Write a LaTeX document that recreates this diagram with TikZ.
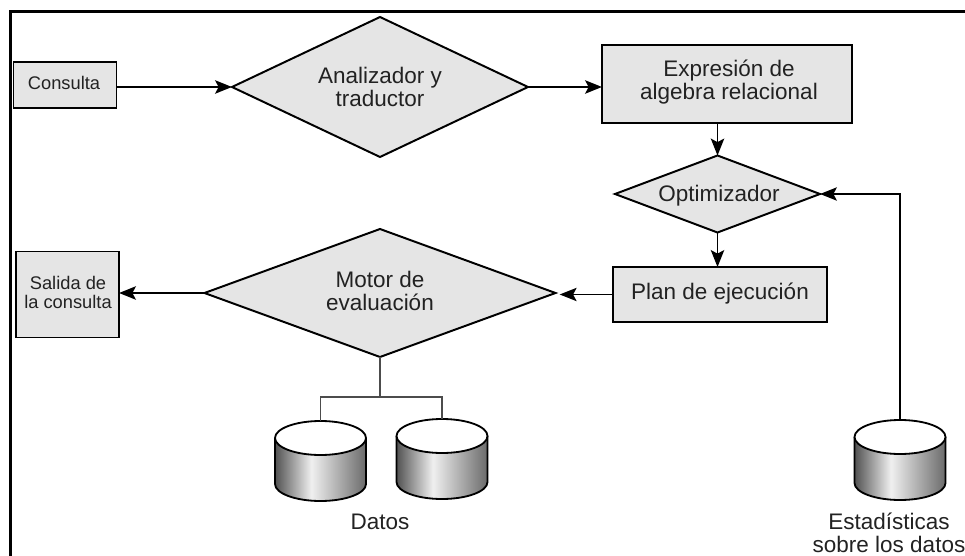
\documentclass[tikz,border=0pt]{standalone}
\usepackage{fontspec}
\setmainfont{Liberation Sans}
\usepackage{tikz}
\usetikzlibrary{positioning, calc, arrows.meta, shapes, shapes.geometric}
\definecolor{boxgray}{HTML}{E5E5E5}
\definecolor{inkgray}{HTML}{222222}
\pgfdeclarehorizontalshading{dbshade}{100bp}{color(0bp)=(black!68); color(25bp)=(black!68); color(45bp)=(black!6); color(75bp)=(black!58); color(100bp)=(black!58)}
\tikzset{bigtext/.style={font=\fontsize{16}{16.5}\selectfont, text=inkgray, align=center}}
\tikzset{smalltext/.style={font=\fontsize{13}{13}\selectfont, text=inkgray, align=center}}
\tikzset{dbox/.style={draw, line width=1.4pt, fill=boxgray, inner sep=0pt, outer sep=0pt}}
\tikzset{ddiam/.style={draw, line width=1.4pt, fill=boxgray, diamond, aspect=2.2, inner sep=0pt, outer sep=0pt}}
\tikzset{arr/.style={draw, line width=1.4pt, -{Stealth[length=12pt, width=9.5pt, inset=2.5pt]}}}
\tikzset{arr1/.style={arr, line width=1.1pt}}
\tikzset{lin/.style={draw, line width=1.3pt, black!70}}
% #1 name, #2 center x, #3 top y
\newcommand\dbcyl[3]{
	\coordinate (#1) at (#2, #3);
	\path[shading=dbshade] (#2-45.5, #3+17) -- (#2-45.5, #3+63)
		arc[start angle=180, end angle=0, x radius=45.5, y radius=17] -- (#2+45.5, #3+17) -- cycle;
	\draw[line width=1.3pt] (#2-45.5, #3+17) -- (#2-45.5, #3+63)
		arc[start angle=180, end angle=0, x radius=45.5, y radius=17] -- (#2+45.5, #3+17);
	\draw[line width=1.3pt, fill=white] (#2, #3+17) ellipse[x radius=45.5, y radius=17];
}

\begin{document}
\begin{tikzpicture}[x=0.025cm, y=-0.025cm]
	\useasboundingbox (0, 0) rectangle (965, 556);
	\draw[line width=1.5pt] (10.5, 556) -- (10.5, 11.5) -- (965, 11.5);

	\node[dbox, line width=1pt, minimum width=103*0.025cm, minimum height=46*0.025cm] (consulta) at (65, 85) {};
	\node[smalltext] (consultatxt) at (64, 83) {Consulta};
	\node[ddiam, minimum width=296*0.025cm, minimum height=140*0.025cm] (analizador) at (380, 87) {};
	\node[bigtext] (analizadortxt) at (380, 87) {Analizador y\\traductor};
	\node[dbox, minimum width=250*0.025cm, minimum height=78*0.025cm] (expresion) at (727, 84) {};
	\node[bigtext] (expresiontxt) at (729, 82) {Expresión de\\algebra relacional};
	\node[ddiam, minimum width=205*0.025cm, minimum height=77*0.025cm] (optimizador) at (717.5, 194) {};
	\node[bigtext] (optimizadortxt) at (719, 196) {Optimizador};
	\node[dbox, minimum width=214*0.025cm, minimum height=55*0.025cm] (plan) at (720, 294.5) {};
	\node[bigtext] (plantxt) at (720, 294) {Plan de ejecución};
	\node[ddiam, minimum width=351*0.025cm, minimum height=128*0.025cm] (motor) at (380, 293) {};
	\node[bigtext] (motortxt) at (380, 291) {Motor de\\evaluación};
	\node[dbox, minimum width=103*0.025cm, minimum height=86*0.025cm] (salida) at (67.5, 294.5) {};
	\node[smalltext] (salidatxt) at (68, 292.5) {Salida de\\la consulta};

	\dbcyl{datosa}{320.5}{421}
	\dbcyl{datosb}{442}{419}
	\dbcyl{estad}{900}{420}
	\node[bigtext] (datos) at (380, 522) {Datos};
	\node[bigtext] (estadtxt) at (889, 533) {Estadísticas\\sobre los datos};

	\draw[arr] (consulta.east |- analizador.west) -- (analizador.west);
	\draw[arr] (analizador.east) -- (expresion.west |- analizador.east);
	\draw[arr] (expresion.south -| optimizador.north) -- (optimizador.north);
	\draw[arr] (optimizador.south) -- (optimizador.south |- plan.north);
	\draw[arr1, shorten >=3pt] (plan.west) -- (motor.east |- plan.west);
	\draw[arr] (motor.west) -- (salida.east |- motor.west);
	\draw[arr1] (estad) |- (optimizador.east);

	\coordinate (junta) at (380, 397);
	\draw[lin] (motor.south) -- (junta);
	\draw[lin] (datosa) |- (junta) -| (datosb);
\end{tikzpicture}
\end{document}
